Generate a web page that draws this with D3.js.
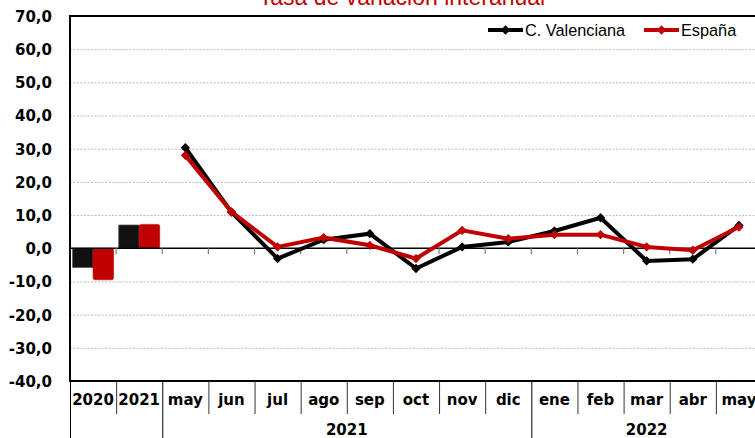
<!DOCTYPE html>
<html>
<head>
<meta charset="utf-8">
<script src="https://cdn.jsdelivr.net/npm/d3@7"></script>
<style>
html,body{margin:0;padding:0;background:#fff;overflow:hidden;}
svg{display:block;}
</style>
</head>
<body>
<svg id="chart" width="755" height="438"></svg>
<script>
// ---- data ----
const categories = ["2020","2021","may","jun","jul","ago","sep","oct","nov","dic","ene","feb","mar","abr","may"];
const annualIdx = [0, 1];
const cvAnnual = [-5.8, 7.0];
const esAnnual = [-9.5, 7.2];
const monthIdx = [2,3,4,5,6,7,8,9,10,11,12,13,14];
const cvMonthly = [30.3, 10.9, -3.1, 2.6, 4.4, -6.1, 0.4, 1.9, 5.2, 9.2, -3.8, -3.3, 6.9];
const esMonthly = [28.0, 11.0, 0.4, 3.2, 0.9, -3.1, 5.4, 2.9, 4.1, 4.1, 0.4, -0.6, 6.4];
const yTicks = [70, 60, 50, 40, 30, 20, 10, 0, -10, -20, -30, -40];
const yearLabels = ["2021", "2022"];
const yearFrom = [2, 10];
const yearTo = [9, 14];
const seriesNames = ["C. Valenciana", "España"];
const title = "Tasa de variación interanual";

// ---- style ----
const BLACK = "#000000", RED = "#c00000";
const svg = d3.select("#chart");
const L = 70, R = 762, T = 16, B = 381;

const x = d3.scaleBand().domain(d3.range(categories.length)).range([L, R]).paddingInner(0).paddingOuter(0);
const y = d3.scaleLinear().domain([-40, 70]).range([B, T]);
const bw = x.bandwidth();

// title (partly clipped at top, as in the reference)
svg.append("text").attr("x", 402).attr("y", 5).attr("text-anchor", "middle")
  .attr("font-family", "Liberation Sans, Arial, sans-serif").attr("font-size", 23)
  .attr("fill", RED).text(title);

// gridlines
svg.append("g").selectAll("line").data(yTicks.filter(d => d !== 0 && d !== 70 && d !== -40)).join("line")
  .attr("x1", L).attr("x2", R).attr("y1", d => y(d) + 0.5).attr("y2", d => y(d) + 0.5)
  .attr("stroke", "#b8b8b8").attr("stroke-width", 1).attr("stroke-dasharray", "2,1.5");

// y axis labels
const yAxis = d3.axisLeft(y).tickValues(yTicks).tickSize(0).tickPadding(0)
  .tickFormat(d => d.toFixed(1).replace(".", ","));
const gy = svg.append("g").attr("transform", `translate(52,0)`).call(yAxis);
gy.select(".domain").remove();
gy.selectAll("text").attr("font-family", "DejaVu Sans, sans-serif").attr("font-weight", "bold")
  .attr("font-size", 15).attr("fill", "#000").attr("dy", "0.36em");

// bars (annual)
const sub = d3.scaleBand().domain([0, 1]).range([0, bw]).paddingOuter(0.125).paddingInner(0);
const barG = svg.append("g");
annualIdx.forEach((ci, k) => {
  const vals = [cvAnnual[k], esAnnual[k]];
  vals.forEach((v, s) => {
    barG.append("rect")
      .attr("x", x(ci) + sub(s)).attr("width", sub.bandwidth())
      .attr("y", Math.min(y(v), y(0))).attr("height", Math.abs(y(v) - y(0)))
      .attr("fill", s === 0 ? "#111111" : RED)
      .attr("stroke", s === 0 ? "#555" : RED).attr("stroke-width", s === 0 ? 0.8 : 0.6)
      .attr("rx", s === 0 ? 0.5 : 2);
  });
});

// zero line
svg.append("line").attr("x1", L).attr("x2", R).attr("y1", y(0)).attr("y2", y(0))
  .attr("stroke", "#000").attr("stroke-width", 1.5);
// ticks on zero line at category boundaries
svg.append("g").selectAll("line").data(d3.range(1, categories.length)).join("line")
  .attr("x1", d => x(d)).attr("x2", d => x(d)).attr("y1", y(0)).attr("y2", y(0) + 6)
  .attr("stroke", "#808080").attr("stroke-width", 1.2);

// lines
const line = d3.line().x(d => x(d[0]) + bw / 2).y(d => y(d[1]));
const diamond = d3.symbol().type(d3.symbolDiamond2).size(55);
function drawSeries(vals, color) {
  const pts = monthIdx.map((ci, i) => [ci, vals[i]]);
  svg.append("path").datum(pts).attr("d", line).attr("fill", "none")
    .attr("stroke", color).attr("stroke-width", 4).attr("stroke-linejoin", "miter");
  svg.append("g").selectAll("path").data(pts).join("path")
    .attr("transform", d => `translate(${x(d[0]) + bw / 2},${y(d[1])})`)
    .attr("d", diamond).attr("fill", color);
}
drawSeries(cvMonthly, BLACK);
drawSeries(esMonthly, RED);

// plot frame
svg.append("line").attr("x1", L).attr("x2", R).attr("y1", T).attr("y2", T).attr("stroke", "#000").attr("stroke-width", 2);
svg.append("line").attr("x1", L).attr("x2", L).attr("y1", T - 1).attr("y2", B).attr("stroke", "#000").attr("stroke-width", 2);
svg.append("line").attr("x1", L - 1).attr("x2", R).attr("y1", B).attr("y2", B).attr("stroke", "#000").attr("stroke-width", 2);

// category separators below plot
const longSep = [0, ...yearFrom];
svg.append("g").selectAll("line").data(d3.range(0, categories.length)).join("line")
  .attr("x1", d => x(d) + 0.5).attr("x2", d => x(d) + 0.5)
  .attr("y1", B).attr("y2", d => longSep.includes(d) ? 438 : 414)
  .attr("stroke", d => longSep.includes(d) ? "#000" : "#333").attr("stroke-width", 1);

// category labels
svg.append("g").selectAll("text").data(categories.map((c, i) => [i, c])).join("text")
  .attr("x", d => x(d[0]) + bw / 2).attr("y", 404.5).attr("text-anchor", "middle")
  .attr("font-family", "DejaVu Sans, sans-serif").attr("font-weight", "bold").attr("font-size", 15)
  .attr("fill", "#000").text(d => d[1]);

// year group labels
svg.append("g").selectAll("text").data(yearLabels.map((lab, i) => [lab, yearFrom[i], yearTo[i]])).join("text")
  .attr("x", d => (x(d[1]) + x(d[2]) + bw) / 2).attr("y", 435).attr("text-anchor", "middle")
  .attr("font-family", "DejaVu Sans, sans-serif").attr("font-weight", "bold").attr("font-size", 15)
  .attr("fill", "#000").text(d => d[0]);

// legend
const legX = [488, 644];
const legColors = [BLACK, RED];
seriesNames.forEach((name, i) => {
  const g = svg.append("g");
  g.append("line").attr("x1", legX[i]).attr("x2", legX[i] + 35).attr("y1", 30).attr("y2", 30)
    .attr("stroke", legColors[i]).attr("stroke-width", 4);
  g.append("path").attr("transform", `translate(${legX[i] + 17.5},30)`).attr("d", diamond).attr("fill", legColors[i]);
  g.append("text").attr("x", legX[i] + 37).attr("y", 35.5)
    .attr("font-family", "Liberation Sans, Arial, sans-serif").attr("font-size", 16.3)
    .attr("fill", "#000").text(name);
});
</script>
</body>
</html>
